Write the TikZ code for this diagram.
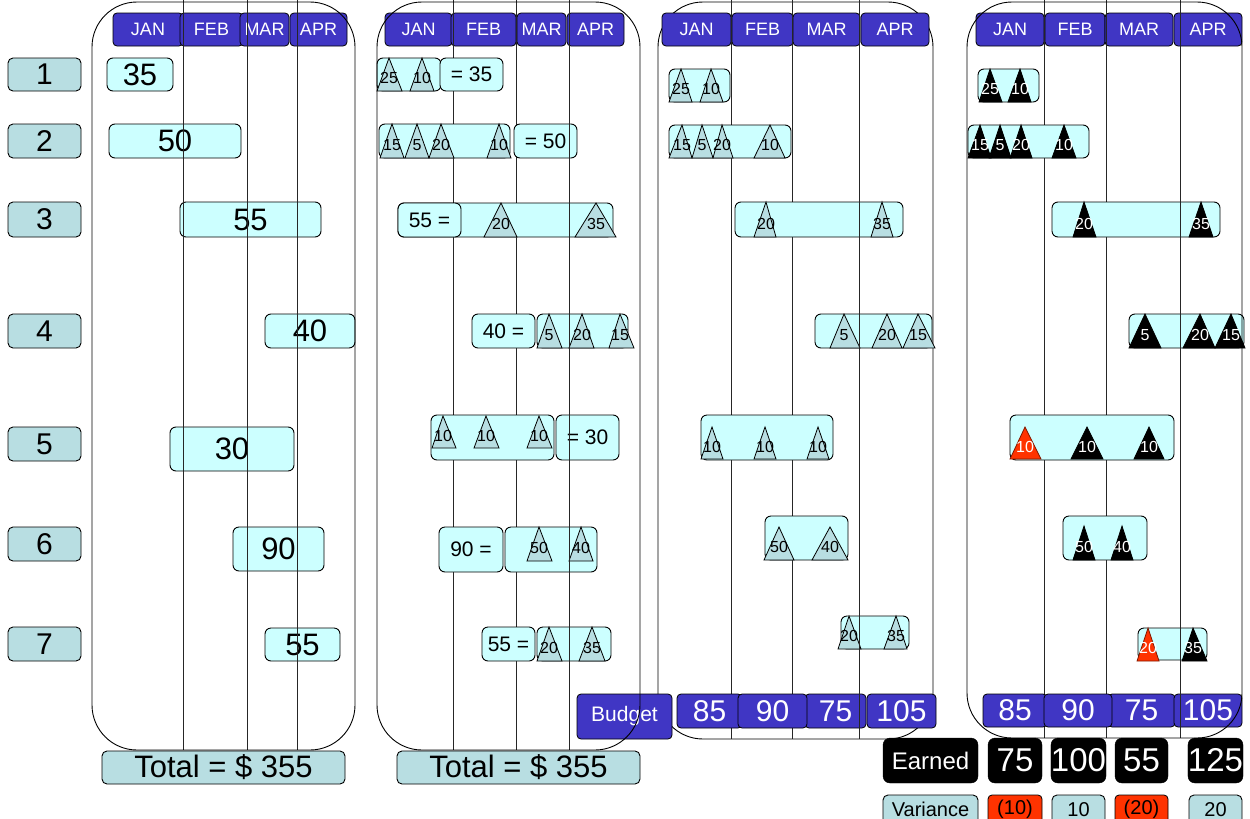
\documentclass[tikz,border=0pt]{standalone}
\usepackage{fontspec}
\setmainfont{Liberation Sans}
\definecolor{hblue}{RGB}{64,54,196}
\definecolor{lcyan}{RGB}{204,255,255}
\definecolor{gcyan}{RGB}{184,222,226}
\definecolor{vred}{RGB}{255,51,0}
\newcommand\fs[1]{\fontsize{#1}{#1}\selectfont}
% box: name, style, x1, y1, x2, y2, text
\newcommand\bx[7]{\node[#2, minimum width={#5-#3}, minimum height={#6-#4}] (#1) at ({(#3+#5)/2},{(#4+#6)/2}) {#7};}
% triangle: name, apex x, apex y, base left, base right, base y, kind, label
\newcommand\tri[8]{\filldraw[tri-#7] (#2,#3) -- (#5,#6) -- (#4,#6) -- cycle;
  \node[lab-#7] (#1) at (#2,{#3+0.62*(#6-#3)}) {#8};}
\begin{document}
\begin{tikzpicture}[x=1pt,y=-1pt,
  every node/.style={inner sep=0pt, outer sep=0pt},
  panel/.style={draw=black, line width=0.9pt, rounded corners=45pt},
  gridl/.style={draw=black!85, line width=1pt},
  hdr/.style={draw=black, fill=hblue, rounded corners=4pt, line width=0.8pt, text=white},
  bar/.style={draw=black, fill=lcyan, rounded corners=6pt, line width=0.9pt},
  lab/.style={draw=black, fill=gcyan, rounded corners=5pt, line width=0.9pt},
  blk/.style={draw=black, fill=black, rounded corners=7pt, text=white},
  redb/.style={draw=black, fill=vred, rounded corners=4pt, line width=0.8pt},
  tri-g/.style={draw=black, fill=gcyan, line width=0.8pt},
  tri-b/.style={draw=black, fill=black, line width=0.8pt},
  tri-r/.style={draw=black!50!vred, fill=vred, line width=0.8pt},
  lab-g/.style={text=black, font=\fs{16}},
  lab-b/.style={text=white, font=\fs{16}},
  lab-r/.style={text=white, font=\fs{16}},
  h18/.style={font=\fs{18}},
  big/.style={font=\fs{31}},
  mid/.style={font=\fs{21}},
]
\useasboundingbox (0,0) rectangle (1250,819);

% ---------- row labels ----------
\bx{n1}{lab,font=\fs{30}}{8}{58}{81}{91}{1}
\bx{n2}{lab,font=\fs{30}}{8}{124}{81}{158}{2}
\bx{n3}{lab,font=\fs{30}}{8}{202}{81}{237}{3}
\bx{n4}{lab,font=\fs{30}}{8}{314}{81}{348}{4}
\bx{n5}{lab,font=\fs{30}}{8}{427}{81}{461}{5}
\bx{n6}{lab,font=\fs{30}}{8}{527}{81}{561}{6}
\bx{n7}{lab,font=\fs{30}}{8}{627}{81}{661}{7}

% ---------- panel 1 ----------
\bx{p1jan}{hdr,h18}{113}{13}{183}{46}{JAN}
\bx{p1feb}{hdr,h18}{180}{13}{243}{46}{FEB}
\bx{p1mar}{hdr,h18}{240}{13}{289}{46}{MAR}
\bx{p1apr}{hdr,h18}{290}{13}{347}{46}{APR}
\bx{p1r1}{bar,big}{107}{58}{173}{91}{35}
\bx{p1r2}{bar,big}{109}{124}{241}{158}{50}
\bx{p1r3}{bar,big}{180}{202}{321}{237}{55}
\bx{p1r4}{bar,big}{265}{314}{355}{348}{40}
\bx{p1r5}{bar,big}{170}{427}{294}{471}{30}
\bx{p1r6}{bar,big}{233}{527}{324}{571}{90}
\bx{p1r7}{bar,big}{265}{628}{340}{661}{55}
\draw[gridl] (183,0) -- (183,750);
\draw[gridl] (247,0) -- (247,750);
\draw[gridl] (297,0) -- (297,750);
\draw[panel] (92,2) rectangle (355,750);
\bx{p1tot}{lab,big}{102}{751}{345}{784}{Total = \$ 355}

% ---------- panel 3 ----------
\draw[panel] (658,2) rectangle (933,739);
\bx{p3jan}{hdr,h18}{662}{13}{731}{46}{JAN}
\bx{p3feb}{hdr,h18}{732}{13}{793}{46}{FEB}
\bx{p3mar}{hdr,h18}{793}{13}{860}{46}{MAR}
\bx{p3apr}{hdr,h18}{861}{13}{929}{46}{APR}
\draw[gridl] (731,0) -- (731,739);
\draw[gridl] (792,0) -- (792,739);
\bx{p3r1}{bar}{669}{69}{730}{102}{}
\tri{p3r1a}{681}{69}{669}{692}{102}{g}{25}
\tri{p3r1b}{711}{69}{700}{723}{102}{g}{10}
\bx{p3r2}{bar}{669}{125}{791}{158}{}
\tri{p3r2a}{682}{125}{669}{692}{158}{g}{15}
\tri{p3r2b}{702}{125}{692}{713}{158}{g}{5}
\tri{p3r2c}{722}{125}{713}{733}{158}{g}{20}
\tri{p3r2d}{770}{125}{754}{785}{158}{g}{10}
\bx{p3r3}{bar}{735}{202}{903}{237}{}
\tri{p3r3a}{766}{202}{754}{776}{237}{g}{20}
\tri{p3r3b}{882}{202}{871}{893}{237}{g}{35}
\bx{p3r4}{bar}{815}{314}{932}{348}{}
\tri{p3r4a}{844}{314}{830}{860}{348}{g}{5}
\tri{p3r4b}{887}{314}{872}{902}{348}{g}{20}
\tri{p3r4c}{918}{314}{903}{935}{348}{g}{15}
\bx{p3r5}{bar}{701}{415}{833}{460}{}
\tri{p3r5a}{712}{427}{701}{723}{459}{g}{10}
\tri{p3r5b}{765}{427}{754}{776}{459}{g}{10}
\tri{p3r5c}{818}{427}{807}{829}{459}{g}{10}
\bx{p3r6}{bar}{765}{516}{848}{560}{}
\tri{p3r6a}{779}{527}{764}{794}{560}{g}{50}
\tri{p3r6b}{830}{527}{812}{848}{560}{g}{40}
\bx{p3r7}{bar}{841}{616}{909}{649}{}
\tri{p3r7a}{849}{616}{838}{861}{649}{g}{20}
\tri{p3r7b}{896}{616}{884}{907}{649}{g}{35}
\bx{p3b1}{hdr,font=\fs{30}}{677}{694}{742}{728}{85}
\bx{p3b3}{hdr,font=\fs{30}}{805}{694}{866}{728}{75}
\bx{p3b4}{hdr,font=\fs{30}}{867}{694}{936}{728}{105}
\bx{p3b2}{hdr,font=\fs{30}}{738}{694}{807}{728}{90}
\draw[gridl] (859,0) -- (859,739);

% ---------- panel 4 ----------
\bx{p4jan}{hdr,h18}{976}{13}{1044}{46}{JAN}
\bx{p4feb}{hdr,h18}{1045}{13}{1105}{46}{FEB}
\bx{p4mar}{hdr,h18}{1105}{13}{1173}{46}{MAR}
\bx{p4apr}{hdr,h18}{1174}{13}{1242}{46}{APR}
\draw[gridl] (1044,0) -- (1044,738);
\draw[gridl] (1106,0) -- (1106,738);
\bx{p4r1}{bar}{978}{69}{1039}{102}{}
\tri{p4r1a}{990}{69}{979}{1002}{102}{b}{25}
\tri{p4r1b}{1020}{69}{1008}{1031}{102}{b}{10}
\bx{p4r2}{bar}{968}{125}{1089}{158}{}
\tri{p4r2a}{980}{125}{968}{991}{158}{b}{15}
\tri{p4r2b}{1000}{125}{989}{1011}{158}{b}{5}
\tri{p4r2c}{1021}{125}{1010}{1032}{158}{b}{20}
\tri{p4r2d}{1064}{125}{1052}{1076}{158}{b}{10}
\bx{p4r3}{bar}{1052}{202}{1220}{237}{}
\tri{p4r3a}{1084}{202}{1073}{1096}{237}{b}{20}
\tri{p4r3b}{1201}{202}{1189}{1213}{237}{b}{35}
\bx{p4r4}{bar}{1129}{314}{1244}{348}{}
\tri{p4r4a}{1145}{314}{1129}{1161}{348}{b}{5}
\tri{p4r4b}{1200}{314}{1183}{1215}{348}{b}{20}
\tri{p4r4c}{1231}{314}{1215}{1245}{348}{b}{15}
\bx{p4r5}{bar}{1010}{415}{1174}{460}{}
\tri{p4r5a}{1025}{427}{1010}{1041}{459}{r}{10}
\tri{p4r5b}{1087}{427}{1071}{1103}{459}{b}{10}
\tri{p4r5c}{1149}{427}{1134}{1164}{459}{b}{10}
\bx{p4r6}{bar}{1063}{516}{1147}{560}{}
\tri{p4r6a}{1084}{526}{1073}{1095}{560}{b}{50}
\tri{p4r6b}{1122}{526}{1111}{1133}{560}{b}{40}
\bx{p4r7}{bar}{1138}{628}{1207}{660}{}
\tri{p4r7a}{1148}{628}{1137}{1159}{661}{r}{20}
\tri{p4r7b}{1193}{628}{1182}{1207}{661}{b}{35}
\bx{p4b1}{hdr,font=\fs{30}}{983}{694}{1047}{727}{85}
\bx{p4b3}{hdr,font=\fs{30}}{1108}{694}{1175}{727}{75}
\bx{p4b4}{hdr,font=\fs{30}}{1174}{694}{1242}{727}{105}
\bx{p4b2}{hdr,font=\fs{30}}{1044}{694}{1112}{727}{90}
\draw[gridl] (1180,0) -- (1180,738);
\draw[panel] (967,2) rectangle (1242,738);

% ---------- panel 2 ----------
\bx{p2jan}{hdr,h18}{385}{13}{452}{46}{JAN}
\bx{p2feb}{hdr,h18}{451}{13}{516}{46}{FEB}
\bx{p2mar}{hdr,h18}{517}{13}{566}{46}{MAR}
\bx{p2apr}{hdr,h18}{567}{13}{624}{46}{APR}
\draw[gridl] (453,0) -- (453,750);
\draw[gridl] (516,0) -- (516,750);
% row 1
\bx{p2r1}{bar}{377}{58}{441}{91}{}
\tri{p2r1a}{389}{58}{377}{402}{91}{g}{25}
\tri{p2r1b}{422}{58}{410}{434}{91}{g}{10}
\bx{p2r1s}{bar,mid}{440}{58}{503}{91}{= 35}
% row 2
\bx{p2r2}{bar}{379}{124}{510}{158}{}
\tri{p2r2a}{392}{124}{380}{404}{158}{g}{15}
\tri{p2r2b}{417}{124}{405}{429}{158}{g}{5}
\tri{p2r2c}{441}{124}{429}{454}{158}{g}{20}
\tri{p2r2d}{499}{124}{487}{511}{158}{g}{10}
\bx{p2r2s}{bar,mid}{514}{124}{577}{158}{= 50}
% row 3
\bx{p2r3}{bar}{398}{203}{613}{237}{}
\bx{p2r3s}{bar,mid}{398}{203}{461}{237}{55 =}
\tri{p2r3a}{501}{203}{484}{517}{237}{g}{20}
\tri{p2r3b}{596}{203}{575}{616}{237}{g}{35}
% row 4
\bx{p2r4s}{bar,mid}{472}{314}{535}{348}{40 =}
\bx{p2r4}{bar}{537}{314}{628}{348}{}
\tri{p2r4a}{549}{314}{537}{562}{348}{g}{5}
\tri{p2r4b}{582}{314}{569}{594}{348}{g}{20}
\tri{p2r4c}{620}{314}{609}{634}{348}{g}{15}
% row 5
\bx{p2r5}{bar}{431}{415}{554}{460}{}
\tri{p2r5a}{443}{416}{432}{456}{448}{g}{10}
\tri{p2r5b}{486}{416}{474}{499}{448}{g}{10}
\tri{p2r5c}{539}{416}{527}{552}{448}{g}{10}
\bx{p2r5s}{bar,mid}{556}{415}{619}{460}{= 30}
% row 6
\bx{p2r6s}{bar,mid}{439}{527}{503}{572}{90 =}
\bx{p2r6}{bar}{505}{527}{597}{572}{}
\tri{p2r6a}{539}{527}{527}{552}{561}{g}{50}
\tri{p2r6b}{581}{527}{569}{593}{561}{g}{40}
% row 7
\bx{p2r7s}{bar,mid}{482}{627}{535}{661}{55 =}
\bx{p2r7}{bar}{537}{627}{611}{661}{}
\tri{p2r7a}{549}{627}{537}{562}{661}{g}{20}
\tri{p2r7b}{592}{627}{579}{605}{661}{g}{35}
\draw[gridl] (569,0) -- (569,750);
\bx{p2tot}{lab,big}{397}{751}{640}{784}{Total = \$ 355}
\bx{budget}{hdr,font=\fs{21}}{577}{694}{672}{739}{Budget}
\draw[panel] (377,2) rectangle (640,750);

% ---------- earned / variance ----------
\bx{earned}{blk,font=\fs{24}}{883}{738}{978}{783}{Earned}
\bx{e1}{blk,font=\fs{33}}{988}{738}{1042}{783}{75}
\bx{e2}{blk,font=\fs{33}}{1052}{738}{1105}{783}{100}
\bx{e3}{blk,font=\fs{33}}{1115}{738}{1168}{783}{55}
\bx{e4}{blk,font=\fs{33}}{1189}{738}{1242}{783}{125}
\bx{var}{lab,font=\fs{20}}{883}{795}{978}{824}{Variance}
\bx{v1}{redb,font=\fs{20}}{988}{795}{1042}{824}{(10)}
\bx{v2}{lab,font=\fs{20}}{1052}{795}{1105}{824}{10}
\bx{v3}{redb,font=\fs{20}}{1115}{795}{1168}{824}{(20)}
\bx{v4}{lab,font=\fs{20}}{1189}{795}{1242}{824}{20}
\end{tikzpicture}
\end{document}
